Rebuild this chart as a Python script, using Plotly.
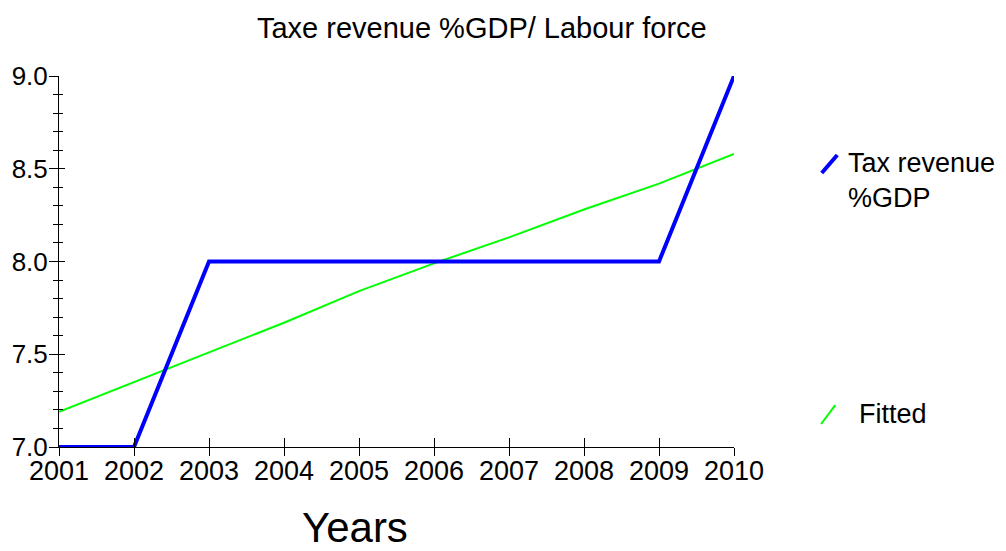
import plotly.graph_objects as go

years = [2001, 2002, 2003, 2004, 2005, 2006, 2007, 2008, 2009, 2010]
tax_revenue = [7.0, 7.0, 8.0, 8.0, 8.0, 8.0, 8.0, 8.0, 8.0, 9.0]
fitted = [7.19, 7.35, 7.51, 7.67, 7.84, 7.99, 8.13, 8.28, 8.42, 8.58]
y_ticks = [7.0, 7.5, 8.0, 8.5, 9.0]
y_ticktext = ["7.0", "7.5", "8.0", "8.5", "9.0"]
series_names = ["Tax revenue<br>%GDP", "Fitted"]
series_colors = ["#0000ff", "#00ff00"]

FONT = "Liberation Sans, Arial, sans-serif"

fig = go.Figure()
fig.add_trace(go.Scatter(x=years, y=fitted, mode="lines", name=series_names[1],
                         line=dict(color=series_colors[1], width=2)))
fig.add_trace(go.Scatter(x=years, y=tax_revenue, mode="lines", name=series_names[0],
                         line=dict(color=series_colors[0], width=4)))
# invisible trace carrying the overlay axes (other half of the crossing ticks)
fig.add_trace(go.Scatter(x=years, y=tax_revenue, xaxis="x2", yaxis="y2", mode="lines",
                         line=dict(width=0), hoverinfo="skip", showlegend=False))

# page body adds an 8px offset, margins compensate
fig.update_layout(
    width=1006, height=551,
    margin=dict(l=51, r=280, t=68, b=112),
    paper_bgcolor="white", plot_bgcolor="white",
    showlegend=False,
    font=dict(family=FONT, color="black"),
    title=dict(text="Taxe revenue %GDP/ Labour force", x=0.471, xanchor="center",
               y=0.964, yanchor="middle", font=dict(size=29)),
)
fig.update_xaxes(
    range=[2001, 2010], tickvals=years, ticks="inside", ticklen=9, tickcolor="black",
    showline=True, linecolor="black", linewidth=1, showgrid=False, zeroline=False,
    tickfont=dict(size=27), automargin=False,
)
fig.update_yaxes(
    range=[7.0, 9.0], tickvals=y_ticks, ticktext=y_ticktext,
    ticks="inside", ticklen=6, tickcolor="black",
    minor=dict(dtick=0.1, ticks="inside", ticklen=4, tickcolor="black"),
    showline=True, linecolor="black", linewidth=1, showgrid=False, zeroline=False,
    tickfont=dict(size=26), ticklabelstandoff=5, automargin=False,
)
fig.update_layout(
    xaxis2=dict(overlaying="x", side="bottom", range=[2001, 2010], tickvals=years,
                ticks="outside", ticklen=8, tickcolor="black", showticklabels=False,
                showline=False, showgrid=False, zeroline=False),
    yaxis2=dict(overlaying="y", side="left", range=[7.0, 9.0], tickvals=y_ticks,
                ticks="outside", ticklen=9, tickcolor="black", showticklabels=False,
                minor=dict(dtick=0.1, ticks="outside", ticklen=5, tickcolor="black"),
                showline=False, showgrid=False, zeroline=False),
)

fig.add_annotation(text="Years", xref="paper", yref="paper", x=0.439, y=-0.218,
                   xanchor="center", yanchor="middle", showarrow=False, font=dict(size=42))

# legend drawn by hand: diagonal glyph + label
glyph_x = [(1.130, 1.153), (1.129, 1.150)]
glyph_y = [(0.7385, 0.787), (0.062, 0.113)]
label_pos = [(1.166, 0.717), (1.182, 0.089)]
for name, color, gx, gy, lp, w in zip(series_names, series_colors, glyph_x, glyph_y, label_pos, [4, 2]):
    fig.add_shape(type="line", xref="paper", yref="paper",
                  x0=gx[0], x1=gx[1], y0=gy[0], y1=gy[1], line=dict(color=color, width=w))
    fig.add_annotation(text=name, xref="paper", yref="paper", x=lp[0], y=lp[1],
                       xanchor="left", yanchor="middle", showarrow=False, align="left",
                       font=dict(size=27))

fig.write_html("out.html")
